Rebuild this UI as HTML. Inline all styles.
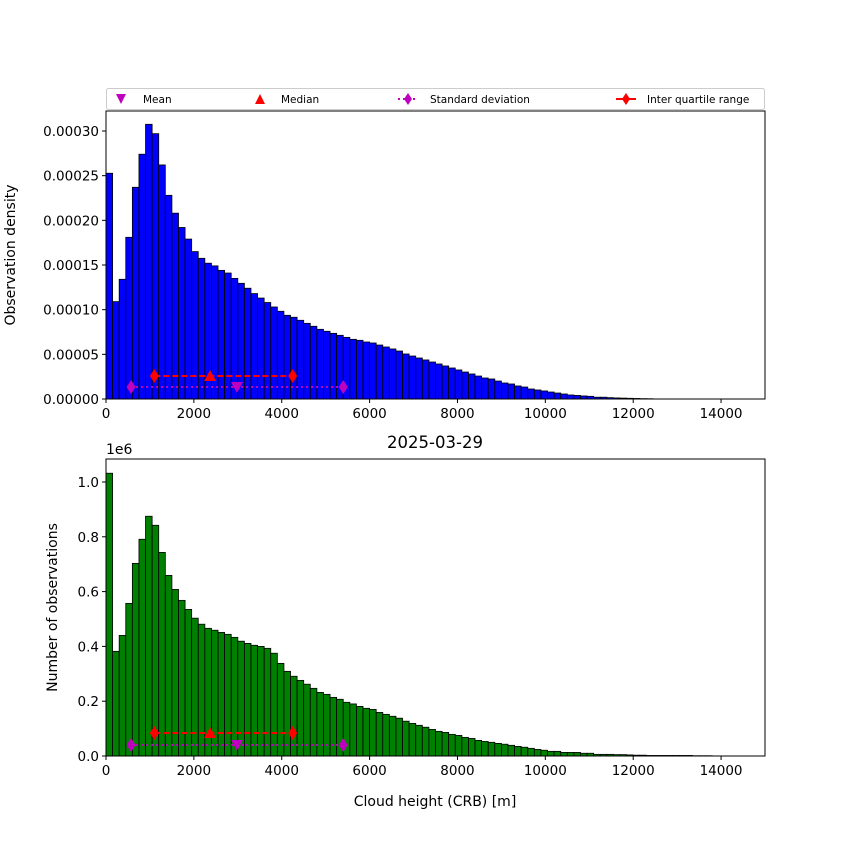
<!DOCTYPE html>
<html><head><meta charset="utf-8"><style>
body{margin:0;background:#fff;}
svg{display:block;font-family:"DejaVu Sans","Liberation Sans",sans-serif;}
</style></head><body>
<svg id="chart" width="850" height="850" viewBox="0 0 850 850"></svg>
<script>
const binWidth = 150;
const densityValues = [0.0002527,0.000109,0.000134,0.000181,0.000237,0.000274,0.0003075,0.000297,0.000262,0.000228,0.000208,0.000192,0.000179,0.000165,0.0001575,0.000152,0.000149,0.000144,0.000141,0.000135,0.0001295,0.000124,0.000118,0.000113,0.000108,0.000103,0.0000982,0.0000937,0.0000915,0.0000881,0.0000847,0.0000814,0.000078,0.0000758,0.0000735,0.0000713,0.000069,0.0000668,0.0000657,0.0000638,0.0000627,0.0000604,0.0000582,0.000056,0.0000537,0.0000504,0.0000481,0.0000459,0.0000437,0.0000414,0.0000392,0.000037,0.0000347,0.0000325,0.0000302,0.000028,0.0000257,0.0000235,0.0000224,0.0000201,0.0000179,0.0000168,0.0000146,0.0000134,0.0000112,0.0000101,0.000009,0.0000078,0.0000067,0.0000056,0.0000045,0.000004,0.0000034,0.000003,0.000002,0.000002,0.0000015,0.0000012,0.000001,0.0000008,0.0000006,0.0000004,0.0000003];
const countValues = [1.032,0.382,0.44,0.557,0.703,0.791,0.875,0.842,0.743,0.659,0.608,0.568,0.535,0.503,0.481,0.466,0.459,0.451,0.444,0.433,0.419,0.411,0.404,0.400,0.393,0.375,0.338,0.309,0.291,0.276,0.262,0.247,0.232,0.225,0.214,0.207,0.196,0.19,0.181,0.174,0.170,0.159,0.152,0.145,0.138,0.127,0.119,0.112,0.105,0.097,0.090,0.086,0.079,0.075,0.068,0.064,0.057,0.053,0.050,0.046,0.043,0.039,0.035,0.032,0.028,0.024,0.021,0.017,0.017,0.013,0.013,0.013,0.010,0.010,0.006,0.006,0.006,0.005,0.005,0.004,0.003,0.003,0.002,0.002,0.002,0.002,0.002,0.002,0.002,0.001,0.001,0.001];
const statsX = {mean:2980, median:2370, q1:1100, q3:4250, stdLo:570, stdHi:5400};
const densityStatY = {iqr:0.0000258, std:0.0000134};
const countStatY = {iqr:0.084, std:0.040};
const xTicks = [0,2000,4000,6000,8000,10000,12000,14000];
const densityTicks = [0,0.00005,0.0001,0.00015,0.0002,0.00025,0.0003];
const densityTickLabels = ["0.00000","0.00005","0.00010","0.00015","0.00020","0.00025","0.00030"];
const countTicks = [0,0.2,0.4,0.6,0.8,1.0];
const countTickLabels = ["0.0","0.2","0.4","0.6","0.8","1.0"];

const NS="http://www.w3.org/2000/svg";
const svg=document.getElementById('chart');
function el(tag,attrs,parent,text){const e=document.createElementNS(NS,tag);for(const k in attrs)e.setAttribute(k,attrs[k]);if(text!==undefined)e.textContent=text;(parent||svg).appendChild(e);return e;}
const X0=106,X1=765;
const xScale=v=>X0+(v/15000)*(X1-X0);

function panel(name,top,bottom,yMax,values,fill,ticks,labels,ylabel,statY){
  const yScale=v=>bottom-(v/yMax)*(bottom-top);
  const g=el('g',{});
  
  
  values.forEach((v,i)=>{
    const x=xScale(i*binWidth),w=xScale((i+1)*binWidth)-x,y=yScale(v);
    const r=el('rect',{x:x,y:y,width:w,height:bottom-y,fill:fill,stroke:'#000','stroke-width':0.8},g);
    
    
  });
  const yi=yScale(statY.iqr),ys=yScale(statY.std);
  el('line',{x1:xScale(statsX.stdLo),x2:xScale(statsX.stdHi),y1:ys,y2:ys,stroke:'#bf00bf','stroke-width':2,'stroke-dasharray':'2,3'},g);
  el('line',{x1:xScale(statsX.q1),x2:xScale(statsX.q3),y1:yi,y2:yi,stroke:'#f00','stroke-width':2,'stroke-dasharray':'6,3'},g);
  const dia=(x,y,c)=>{const d=el('polygon',{points:`${x},${y-7} ${x+4.5},${y} ${x},${y+7} ${x-4.5},${y}`,fill:c},g);};
  dia(xScale(statsX.stdLo),ys,'#bf00bf');dia(xScale(statsX.stdHi),ys,'#bf00bf');
  dia(xScale(statsX.q1),yi,'#f00');dia(xScale(statsX.q3),yi,'#f00');
  const mx=xScale(statsX.mean);
  el('polygon',{points:`${mx-6},${ys-5} ${mx+6},${ys-5} ${mx},${ys+6}`,fill:'#bf00bf'},g);
  const md=xScale(statsX.median);
  el('polygon',{points:`${md-6},${yi+5} ${md+6},${yi+5} ${md},${yi-6}`,fill:'#f00'},g);
  el('rect',{x:X0,y:top,width:X1-X0,height:bottom-top,fill:'none',stroke:'#000','stroke-width':1},g);
  xTicks.forEach(t=>{const x=xScale(t);el('line',{x1:x,x2:x,y1:bottom,y2:bottom+4,stroke:'#000'},g);
    el('text',{x:x,y:bottom+19,'text-anchor':'middle','font-size':13.5},g,String(t));});
  ticks.forEach((t,i)=>{const y=yScale(t);el('line',{x1:X0-4,x2:X0,y1:y,y2:y,stroke:'#000'},g);
    el('text',{x:X0-7,y:y+5,'text-anchor':'end','font-size':13.5},g,labels[i]);});
  const yl=el('text',{x:0,y:0,'text-anchor':'middle','font-size':14,transform:`translate(${name==='density'?15:57},${(top+bottom)/2}) rotate(-90)`},g,ylabel);
  
  
}
panel('density',111,399,0.0003*(399-111)/(399-131),densityValues,'#0000ff',densityTicks,densityTickLabels,'Observation density',densityStatY);
panel('count',459,756,(756-459)/274,countValues,'#008000',countTicks,countTickLabels,'Number of observations',countStatY);

el('text',{x:106,y:454,'font-size':14},svg,'1e6');
const title=el('text',{x:435,y:448,'text-anchor':'middle','font-size':16.5},svg,'2025-03-29');


const xl=el('text',{x:435,y:806,'text-anchor':'middle','font-size':14},svg,'Cloud height (CRB) [m]');



const lg=el('g',{});


el('rect',{x:106.5,y:88.5,width:658,height:21,fill:'#fff',stroke:'#ccc','stroke-width':1,rx:2},lg);
const ly=99;
el('polygon',{points:`116,${ly-5} 126,${ly-5} 121,${ly+5}`,fill:'#bf00bf'},lg);
el('text',{x:143,y:ly+4,'font-size':10.5},lg,'Mean');
el('polygon',{points:`255,${ly+5} 265,${ly+5} 260,${ly-5}`,fill:'#f00'},lg);
el('text',{x:281,y:ly+4,'font-size':10.5},lg,'Median');
el('line',{x1:398,x2:418,y1:ly,y2:ly,stroke:'#bf00bf','stroke-width':2,'stroke-dasharray':'2,3'},lg);
el('polygon',{points:`408,${ly-6} 412,${ly} 408,${ly+6} 404,${ly}`,fill:'#bf00bf'},lg);
el('text',{x:430,y:ly+4,'font-size':10.5},lg,'Standard deviation');
el('line',{x1:616,x2:636,y1:ly,y2:ly,stroke:'#f00','stroke-width':2},lg);
el('polygon',{points:`626,${ly-6} 630,${ly} 626,${ly+6} 622,${ly}`,fill:'#f00'},lg);
el('text',{x:647,y:ly+4,'font-size':10.5},lg,'Inter quartile range');
</script>
</body></html>
